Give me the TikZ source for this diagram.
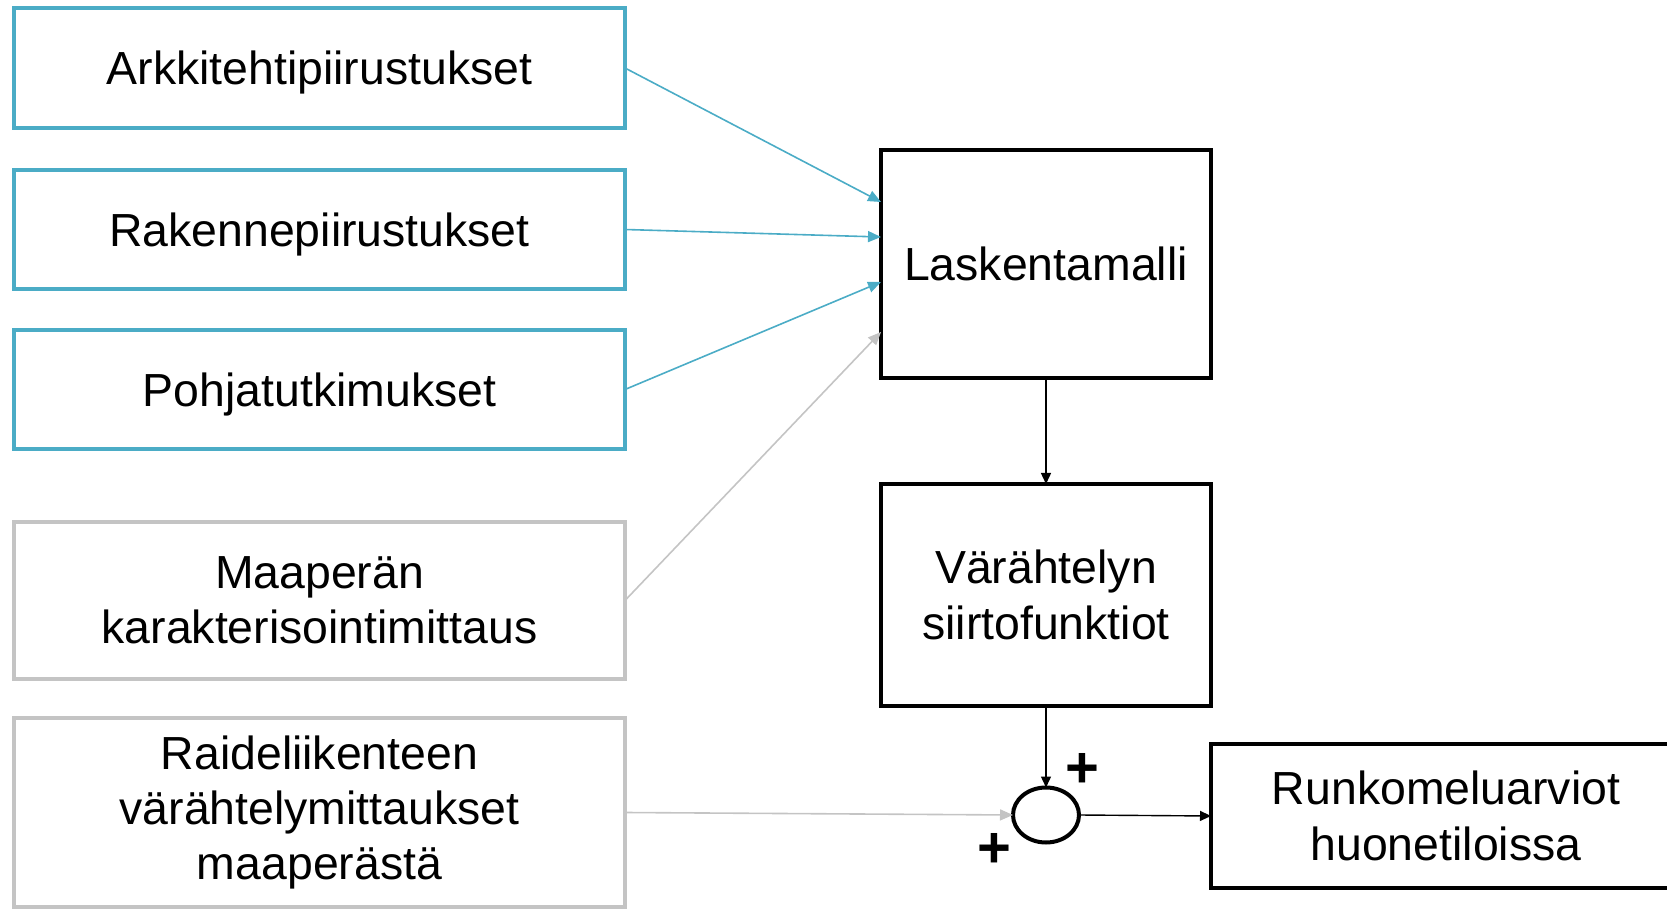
\documentclass[tikz,border=0pt]{standalone}
\usepackage{fontspec}
\setmainfont{Liberation Sans}
\usetikzlibrary{arrows.meta,calc,shapes.geometric}
\definecolor{teal1}{HTML}{4BACC6}
\definecolor{gray1}{HTML}{C4C4C4}
\begin{document}
\begin{tikzpicture}[x=0.5pt,y=-0.5pt,
  every node/.style={inner sep=0pt,outer sep=0pt,font=\fontsize{23.2}{27.6}\selectfont,align=center},
  tbox/.style={draw=teal1,line width=2pt,rectangle,minimum width=305.5pt,text height=22pt,text depth=5pt},
  gbox/.style={draw=gray1,line width=1.8pt,rectangle,minimum width=305.5pt},
  kbox/.style={draw=black,line width=2pt,rectangle},
  tarr/.style={draw=teal1,line width=0.8pt,-{Triangle[length=6.5pt,width=5.5pt]}},
  garr/.style={draw=gray1,line width=0.8pt,-{Triangle[length=6.5pt,width=5.5pt]}},
  karr/.style={draw=black,line width=0.7pt,-{Triangle[length=5.5pt,width=5pt]}},
  plusnode/.style={font=\fontsize{29}{29}\selectfont\bfseries}
]
\useasboundingbox (0,0) rectangle (1667,909);
\node[tbox,minimum height=59.75pt] (arkk) at (319.5,68) {Arkkitehtipiirustukset};
\node[tbox,minimum height=59.5pt] (rak) at (319.5,229.5) {Rakennepiirustukset};
\node[tbox,minimum height=59.5pt] (pohj) at (319.5,389.5) {Pohjatutkimukset};
\node[gbox,minimum height=78.5pt] (maap) at (319.5,600.5) {Maaperän\\karakterisointimittaus};
\node[gbox,minimum height=94.5pt] (raide) at (319.5,812.5) {Raideliikenteen\\värähtelymittaukset\\maaperästä};
\node[kbox,minimum width=165pt,minimum height=114pt] (lask) at (1046,264) {Laskentamalli};
\node[kbox,minimum width=165pt,minimum height=111pt] (var) at (1046,595) {Värähtelyn\\siirtofunktiot};
\node[draw=black,line width=2pt,ellipse,minimum width=33pt,minimum height=27.5pt] (sum) at (1046,815) {};
\node[kbox,minimum width=235pt,minimum height=72pt] (runko) at (1446,816) {Runkomeluarviot\\huonetiloissa};
\node[plusnode] (plusA) at (1082,770) {+};
\node[plusnode] (plusB) at (994,850) {+};
\draw[tarr] (arkk.east) -- ($(lask.west)+(0,-62)$);
\draw[tarr] (rak.east) -- ($(lask.west)+(0,-27)$);
\draw[tarr] (pohj.east) -- ($(lask.west)+(0,18)$);
\draw[garr] (maap.east) -- ($(lask.west)+(0,68)$);
\draw[karr] (lask.south) -- (var.north);
\draw[karr] (var.south) -- (sum.north);
\draw[garr] (raide.east) -- (sum.west);
\draw[karr] (sum.east) -- (runko.west);
\end{tikzpicture}
\end{document}
